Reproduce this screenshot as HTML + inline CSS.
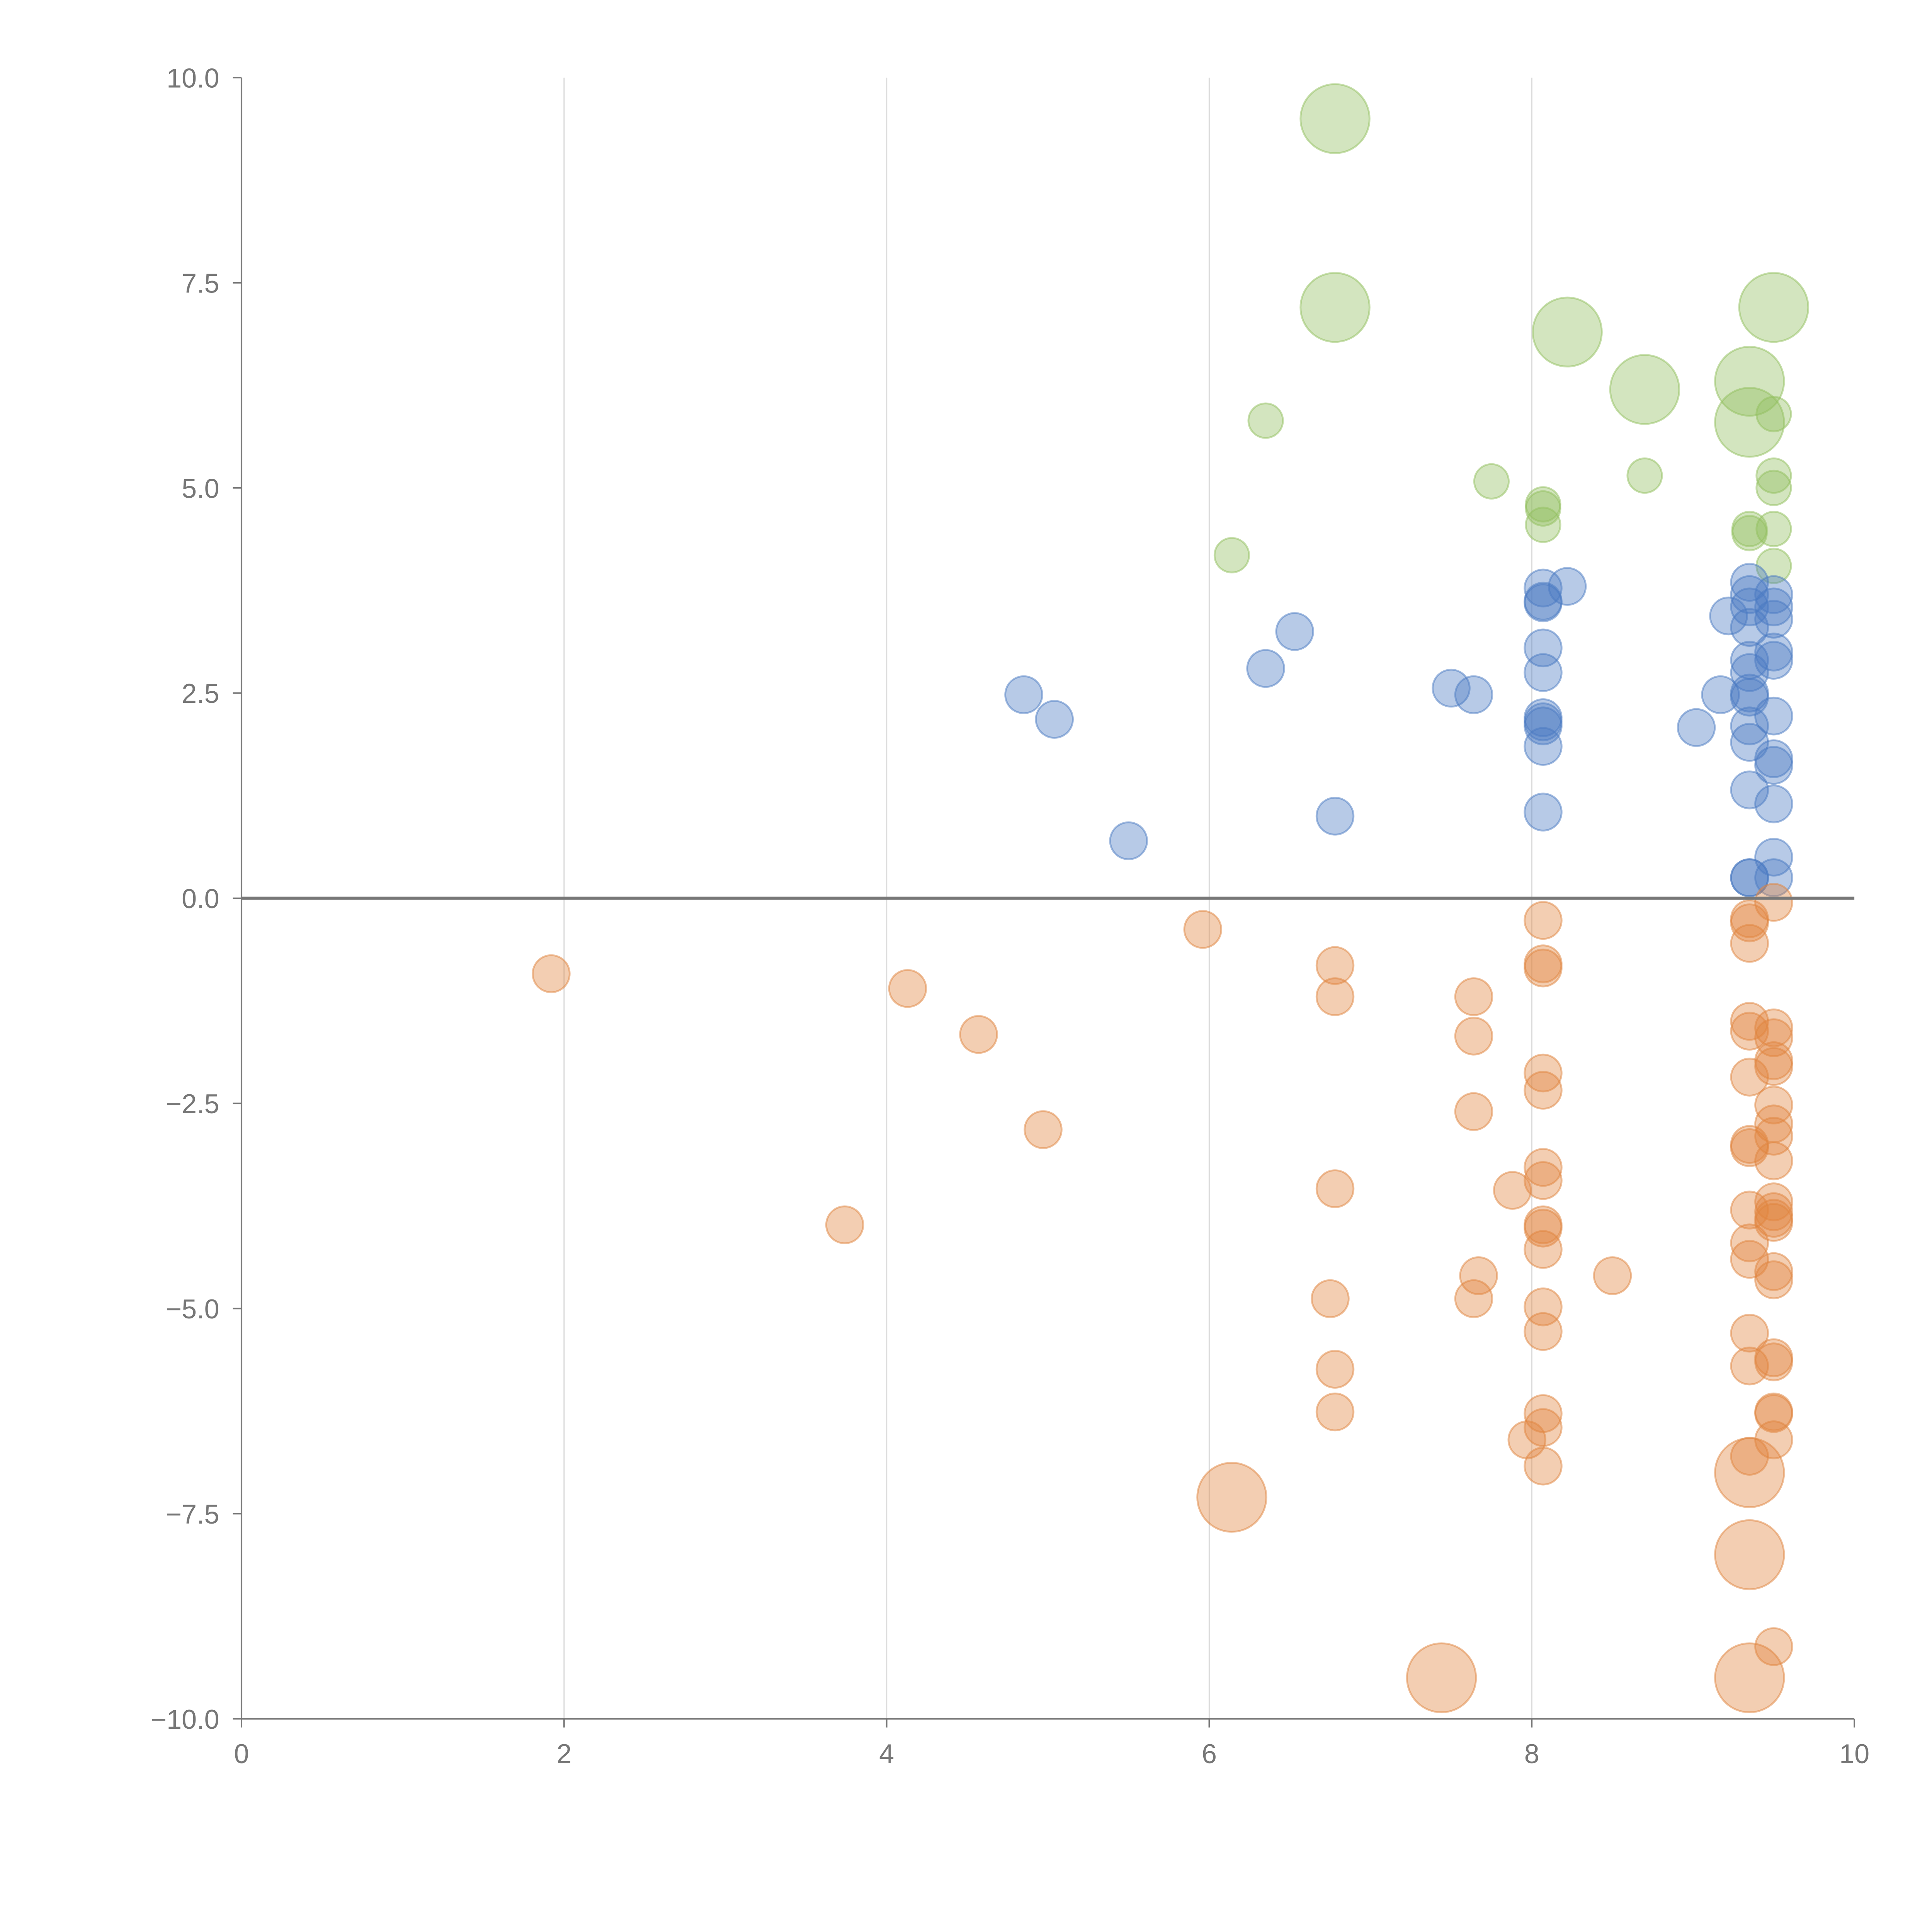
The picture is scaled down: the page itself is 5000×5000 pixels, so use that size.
<!DOCTYPE html>
<html><head><meta charset="utf-8"><style>html,body{margin:0;padding:0;background:#fff}svg{display:block}</style></head>
<body>
<svg id="chart" width="5000" height="5000" viewBox="0 0 1568 1568" xmlns="http://www.w3.org/2000/svg" font-family="Liberation Sans, sans-serif">
<g id="grid"></g>
<g id="marks"></g>
<g id="axes"></g>
</svg>
<script>
const xTicks = [0, 2, 4, 6, 8, 10];
const yTicks = [10, 7.5, 5, 2.5, 0, -2.5, -5, -7.5, -10];
const yTickLabels = ["10.0", "7.5", "5.0", "2.5", "0.0", "\u22122.5", "\u22125.0", "\u22127.5", "\u221210.0"];
const greenX = [6.78,6.78,8.22,8.7,9.35,9.35,9.5,6.35,7.75,6.14,8.7,8.07,8.07,8.07,9.35,9.35,9.5,9.5,9.5,9.5,9.5];
const greenY = [9.5,7.2,6.9,6.2,6.3,5.8,7.2,5.82,5.08,4.18,5.15,4.8,4.75,4.55,4.5,4.45,5.9,5.15,5.0,4.5,4.05];
const greenS = [2,2,2,2,2,2,2,1,1,1,1,1,1,1,1,1,1,1,1,1,1];
const blueX = [4.85,5.04,5.5,6.35,6.53,6.78,7.5,7.64,8.07,8.07,8.07,8.07,8.07,8.07,8.07,8.07,8.07,8.07,8.22,9.02,9.17,9.22,9.35,9.35,9.35,9.35,9.35,9.35,9.35,9.35,9.35,9.35,9.35,9.35,9.35,9.5,9.5,9.5,9.5,9.5,9.5,9.5,9.5,9.5,9.5,9.5];
const blueY = [2.48,2.18,0.7,2.8,3.25,1.0,2.56,2.48,3.78,3.62,3.6,3.05,2.75,2.2,2.15,2.1,1.85,1.05,3.8,2.08,2.48,3.44,3.85,3.7,3.55,3.3,2.9,2.75,2.5,2.45,2.1,1.9,1.32,0.25,0.25,3.7,3.55,3.4,3.0,2.9,2.22,1.7,1.62,1.15,0.5,0.25];
const orangeX = [1.92,3.74,4.13,4.57,4.97,5.96,6.78,6.78,6.78,6.75,6.78,6.78,7.64,7.64,7.64,7.67,7.64,7.88,7.97,8.07,8.07,8.07,8.07,8.07,8.07,8.07,8.07,8.07,8.07,8.07,8.07,8.07,8.07,8.07,8.5,9.35,9.35,9.35,9.35,9.35,9.35,9.35,9.35,9.35,9.35,9.35,9.35,9.35,9.35,9.5,9.5,9.5,9.5,9.5,9.5,9.5,9.5,9.5,9.5,9.5,9.5,9.5,9.5,9.5,9.5,9.5,9.5,9.5,9.5,9.5,6.14,7.44,9.35,9.35,9.35];
const orangeY = [-0.92,-3.98,-1.1,-1.66,-2.82,-0.38,-0.82,-1.2,-3.54,-4.88,-5.74,-6.26,-1.2,-1.68,-2.6,-4.6,-4.88,-3.56,-6.6,-0.27,-0.8,-0.85,-2.13,-2.34,-3.28,-3.44,-3.98,-4.02,-4.28,-4.98,-5.28,-6.28,-6.45,-6.92,-4.6,-0.3,-0.25,-0.55,-1.5,-1.62,-2.18,-3.0,-3.04,-3.8,-4.2,-4.4,-5.3,-5.7,-6.8,-0.05,-1.58,-1.7,-1.98,-2.05,-2.52,-2.75,-2.9,-3.2,-3.7,-3.82,-3.9,-3.95,-4.55,-4.65,-5.6,-5.65,-6.26,-6.28,-6.6,-9.12,-7.3,-9.5,-7.0,-8.0,-9.5];
const orangeBig = 70;

const NS = "http://www.w3.org/2000/svg";
const X0 = 196, X1 = 1505, Y0 = 63, Y1 = 1395;
function sx(v){ return X0 + (v - 0) / 10 * (X1 - X0); }
function sy(v){ return Y1 - (v + 10) / 20 * (Y1 - Y0); }
function mk(tag, attrs, parent){ const e = document.createElementNS(NS, tag); for (const k in attrs) e.setAttribute(k, attrs[k]); parent.appendChild(e); return e; }

const grid = document.getElementById('grid');
const axes = document.getElementById('axes');
const marks = document.getElementById('marks');

xTicks.forEach(t => {
  if (t > 0 && t < 10) {
    const g = mk('line', {x1: sx(t), x2: sx(t), y1: Y0, y2: Y1, stroke: '#dcdcdc', 'stroke-width': 1}, grid);
    
    
  }
  const tk = mk('line', {x1: sx(t), x2: sx(t), y1: Y1, y2: Y1 + 7, stroke: '#777', 'stroke-width': 1.2}, axes);
  
  
  const tl = mk('text', {x: sx(t), y: Y1 + 36, 'text-anchor': 'middle', 'font-size': 22, fill: '#777'}, axes);
  tl.textContent = t;
  
  
});
yTicks.forEach((t, i) => {
  const tk = mk('line', {x1: X0 - 7, x2: X0, y1: sy(t), y2: sy(t), stroke: '#777', 'stroke-width': 1.2}, axes);
  
  
  const tl = mk('text', {x: X0 - 18, y: sy(t) + 8, 'text-anchor': 'end', 'font-size': 22, fill: '#777'}, axes);
  tl.textContent = yTickLabels[i];
  
  
});
const xa = mk('line', {x1: X0, x2: X1, y1: Y1, y2: Y1, stroke: '#777', 'stroke-width': 1.3}, axes);


const ya = mk('line', {x1: X0, x2: X0, y1: Y0, y2: Y1, stroke: '#777', 'stroke-width': 1.3}, axes);


const zl = mk('line', {x1: X0, x2: X1, y1: sy(0), y2: sy(0), stroke: '#777', 'stroke-width': 2.5}, axes);



function bubble(x, y, r, col, name){
  const c = mk('circle', {cx: sx(x), cy: sy(y), r: r, fill: col, 'fill-opacity': 0.4, stroke: col, 'stroke-opacity': 0.5, 'stroke-width': 1.5}, marks);
  
  
}
greenX.forEach((x, i) => bubble(x, greenY[i], greenS[i] === 2 ? 28 : 14, '#92bf5e', 'green-bubble'));
blueX.forEach((x, i) => bubble(x, blueY[i], 15, '#4a7ac2', 'blue-bubble'));
orangeX.forEach((x, i) => bubble(x, orangeY[i], i >= orangeBig ? 28 : 15, '#e0843e', 'orange-bubble'));
</script>
</body></html>
